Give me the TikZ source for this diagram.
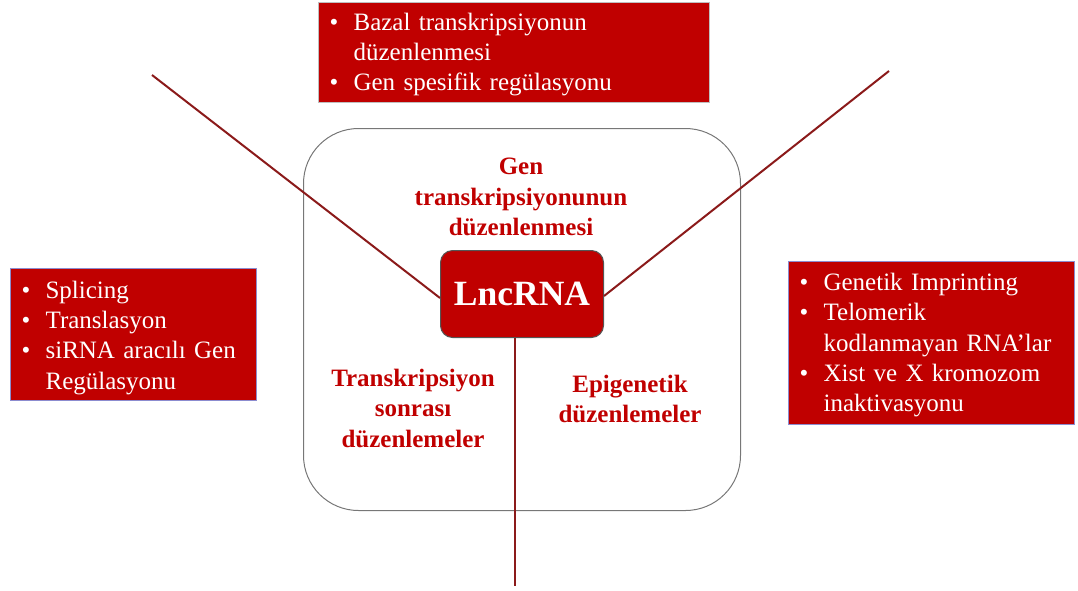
\documentclass[tikz,border=0pt]{standalone}
\usepackage{fontspec}
\setmainfont{Liberation Serif}
\definecolor{boxred}{HTML}{C00000}
\definecolor{linered}{HTML}{8B1A1A}
\definecolor{lilac}{HTML}{8C8CCF}
\definecolor{greyedge}{HTML}{BFBFBF}
\definecolor{darkedge}{HTML}{555555}
\newcommand{\bl}{\makebox[24pt][l]{\textbullet}}
\tikzset{
  listbox/.style={fill=boxred, draw=lilac, line width=1.2pt, anchor=north west, text=white,
    align=left, inner xsep=0pt, inner ysep=0pt, font=\fontsize{25}{30.3}\selectfont},
  cat/.style={text=boxred, align=center, font=\bfseries\fontsize{25}{30.5}\selectfont},
  conn/.style={draw=linered, line width=2pt}
}
\begin{document}
\begin{tikzpicture}[x=1pt,y=-1pt]
\useasboundingbox (0,0) rectangle (1078,590);
% big rounded frame
\node[draw=darkedge!80, line width=1pt, rounded corners=55pt, minimum width=437pt, minimum height=382pt, anchor=north west] (frame) at (303,128) {};
% centre node
\node[fill=boxred, draw=darkedge, line width=1pt, rounded corners=12pt, minimum width=163pt, minimum height=87pt, anchor=north west, text=white, font=\bfseries\fontsize{35.5}{38}\selectfont] (lnc) at (440,250) {LncRNA};
% connectors
\coordinate (ltop) at (152,75);
\coordinate (rtop) at (889,71);
\path ([xshift=-7pt]lnc.south) coordinate (bs);
\coordinate (bot) at (bs |- 0,586);
\draw[conn] (ltop) -- ([yshift=-4pt]lnc.west);
\draw[conn] (rtop) -- ([yshift=-2pt]lnc.east);
\draw[conn] (bs) -- (bot);
% category texts
\node[cat] (gen) at (521,197) {Gen\\transkripsiyonunun\\düzenlenmesi};
\node[cat] (post) at (413,408) {Transkripsiyon\\sonrası\\düzenlemeler};
\node[cat] (epi) at (630,399) {Epigenetik\\düzenlemeler};
% list boxes
\node[listbox, draw=greyedge, minimum width=391pt, minimum height=100pt, text width=389pt] (topbox) at (318,2)
  {\vspace*{-4pt}\hspace*{10pt}\begin{tabular}{@{}l@{}l@{}}\bl & Bazal transkripsiyonun\\ & düzenlenmesi\\ \bl & Gen spesifik regülasyonu\end{tabular}};
\node[listbox, minimum width=246pt, minimum height=132pt, text width=244pt] (leftbox) at (10,268)
  {\vspace*{-6pt}\hspace*{10pt}\begin{tabular}{@{}l@{}l@{}}\bl & Splicing\\ \bl & Translasyon\\ \bl & siRNA aracılı Gen\\ & Regülasyonu\end{tabular}};
\node[listbox, minimum width=286pt, minimum height=163pt, text width=284pt] (rightbox) at (788,261)
  {\vspace*{-4pt}\hspace*{10pt}\begin{tabular}{@{}l@{}l@{}}\bl & Genetik Imprinting\\ \bl & Telomerik\\ & kodlanmayan RNA’lar\\ \bl & Xist ve X kromozom\\ & inaktivasyonu\end{tabular}};
\end{tikzpicture}
\end{document}
